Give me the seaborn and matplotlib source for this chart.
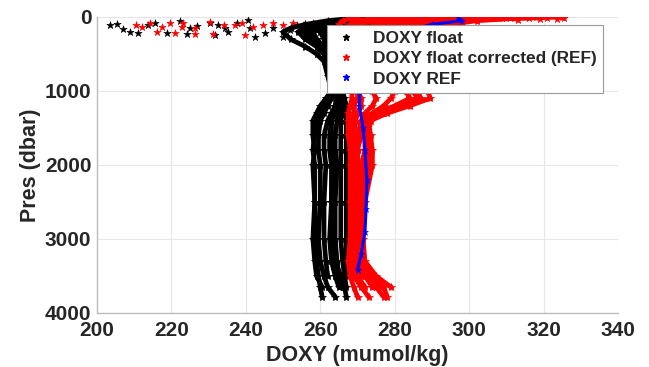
import numpy as np
import pandas as pd
import matplotlib
matplotlib.use("Agg")
import matplotlib.pyplot as plt
from matplotlib.lines import Line2D
import seaborn as sns

nan = np.nan

# ---------------- data ----------------
levels = [0, 20, 50, 100, 150, 200, 300, 400, 500, 600, 800, 1000, 1100, 1200, 1300,
          1400, 1600, 1800, 2000, 2500, 3000, 3300, 3500, 3650, 3780]

float_doxy = [
    [272, 268, 262, 256, 252, 250, 252, 256, 259, 261, 262, 263, 261.5, 260, 259, 258, 258, 258.5, 258, 258.5, 258, 258.5, 259, 260.5, nan],
    [280, 276, 270, 262, 256, 254, 256, 259, 261, 262, 263, 264, 263, 262, 261, 260, 259.5, 259.5, 260, 260, 259.5, 260, 261, 262, 264],
    [290, 285, 278, 268, 260, 257, 258, 260, 262, 263, 264, 265, 264.5, 264, 263, 262, 261, 261, 261.5, 261, 261, 261.5, 262, nan, nan],
    [300, 292, 284, 275, 264, 260, 261, 262, 263, 263.5, 265, 266, 265.5, 265, 264, 263, 262.5, 262.5, 263, 263, 262.5, 263, 264, 265, nan],
    [308, 300, 290, 282, 270, 263, 263, 263, 264, 264, 265, 266, 266, 266, 265, 264.5, 264, 264, 264.5, 264, 264, 264.5, 265, 266, nan],
    [296, 288, 280, 270, 262, 258, 259, 261, 262, 263, 264, 265, 265.5, 266, 266, 265.5, 265.5, 265.5, 265.5, 265.5, 265.5, 266, 266.5, 267, nan],
    [285, 280, 274, 265, 258, 255, 257, 260, 262, 263, 264.5, 266, 266.5, 267, 267, 267, 267, 267, 267, 267, 267, 267, 267.5, nan, nan],
    [275, 272, 268, 262, 258, 256, 257, 259, 261, 262, 263, 263, 262, 261, 260, 259, 258.5, 258, 258.5, 258.5, 259, 259, 259.5, 260, 260.5],
    [304, 296, 286, 276, 266, 261, 262, 262.5, 263, 263.5, 264, 265, 264.5, 264, 263.5, 263, 263, 263.5, 263.5, 263, 263.5, 264, 265.5, 266.5, 267],
]

corrected_doxy = [
    [270, 268, 266, 265, 265, 265, 266, 267, 267.5, 268, 268, 268.5, 268.5, 268, 267.5, 267.5, 267.5, 268, 268, 268, 268, 267.5, 268, 269, 270],
    [285, 280, 275, 270, 268, 267, 268, 268, 269, 269, 270, 270, 270, 269, 269, 268.5, 268.5, 269, 269, 269, 269, 269, 270, 272, nan],
    [300, 295, 288, 280, 275, 272, 272, 273, 274, 275, 277, 280, 279, 277, 274, 271.5, 271, 270, 270, 270, 270, 270, 272, 274, nan],
    [315, 305, 298, 290, 282, 278, 278, 280, 282, 284, 286, 289, 289.5, 284, 278, 273.5, 273, 272, 271, 271, 270.5, 271, 273, 276, nan],
    [325, 312, 302, 295, 286, 280, 279, 280, 281, 282, 284, 286, 287, 282, 276, 273, 273.5, 274, 274, 272, 271.5, 272, 275, 279, nan],
    [308, 300, 292, 285, 278, 274, 274, 275, 276, 277, 279, 283, 284, 280, 275, 272.5, 272.5, 273, 273, 271, 271, 271.5, 273.5, 277, 278],
    [292, 288, 282, 276, 272, 270, 270, 271, 272, 272.5, 273, 274, 275, 274, 272, 271, 270, 270, 270, 269.5, 269.5, 270, 271, nan, nan],
    [278, 274, 270, 268, 267, 266, 267, 268, 268, 268.5, 269, 270, 271, 271, 270, 269.5, 269, 269, 268.5, 268.5, 268.5, 268, 269, 271, 273],
    [318, 308, 296, 288, 280, 276, 276, 278, 280, 282, 283, 285, 286, 281, 277, 273, 272, 272, 272, 271, 271, 271, 272, 275, 277],
]

ref_pres = [0, 50, 100, 200, 400, 600, 800, 1000, 1200, 1500, 1800, 2200, 2600, 2900, 3200, 3420]
ref_doxy = [297, 298, 290, 282, 278, 275, 272, 270.5, 270.5, 271.5, 272, 272.5, 272.3, 272, 271, 270]

# scattered near-surface points
float_surf_doxy = [203.5, 205.3, 207.1, 208.9, 211.1, 213.8, 215.6, 218.7, 222.3, 224.1, 225, 226.8,
                   230.4, 231.7, 232.6, 234.4, 235.3, 237.5, 240.6, 241.1, 242.5, 245.2, 247.4,
                   250.1, 251.9, 253.7]
float_surf_pres = [108, 95, 166, 198, 212, 108, 86, 221, 54, 230, 153, 117,
                   86, 243, 108, 153, 198, 86, 41, 153, 275, 221, 153,
                   266, 176, 108]
corr_surf_doxy = [210.6, 212, 214.2, 216, 217.4, 219.6, 221, 222.8, 223.2, 226.3, 226.3, 230.4,
                  231.3, 234, 237.1, 238.9, 239.8, 242, 244.7, 247.4, 250.1, 252.7, 255.4, 258.1,
                  310, 313, 316, 319, 321, 323.5, 325.5]
corr_surf_pres = [108, 131, 86, 198, 131, 86, 221, 131, 77, 230, 153, 63,
                  230, 108, 108, 86, 243, 131, 108, 86, 108, 86, 108, 86,
                  20, 40, 10, 25, 15, 30, 10]

x_ticks = [200, 220, 240, 260, 280, 300, 320, 340]
y_ticks = [0, 1000, 2000, 3000, 4000]
legend_labels = ["DOXY float", "DOXY float corrected (REF)", "DOXY REF"]

# ---------------- build tables ----------------
def profiles_df(rows):
    recs = []
    for i, row in enumerate(rows):
        for p, v in zip(levels, row):
            if not np.isnan(v):
                recs.append({"profile": i, "pres": p, "doxy": v})
    return pd.DataFrame(recs)

df_float = profiles_df(float_doxy)
df_corr = profiles_df(corrected_doxy)
df_ref = pd.DataFrame({"profile": 0, "pres": ref_pres, "doxy": ref_doxy})

sns.set_theme(style="white")
plt.rcParams["font.family"] = ["Liberation Sans", "DejaVu Sans"]
plt.rcParams["font.weight"] = "bold"

fig = plt.figure(figsize=(6.49, 3.67), dpi=100)
ax = fig.add_axes([97 / 649, 1 - 313 / 367, 521 / 649, 296 / 367])

common = dict(x="doxy", y="pres", units="profile", estimator=None, sort=False,
              orient="y", ax=ax, legend=False)

sns.lineplot(data=df_float, color="black", lw=3.4, marker="*", markersize=6,
             markeredgewidth=0.5, markeredgecolor="black", **common)
sns.scatterplot(x=float_surf_doxy, y=float_surf_pres, color="black", marker="*",
                s=30, linewidth=0.4, edgecolor="black", ax=ax, legend=False)
sns.lineplot(data=df_corr, color="red", lw=3.4, marker="*", markersize=6,
             markeredgewidth=0.5, markeredgecolor="red", **common)
sns.scatterplot(x=corr_surf_doxy, y=corr_surf_pres, color="red", marker="*",
                s=30, linewidth=0.4, edgecolor="red", ax=ax, legend=False)
sns.lineplot(data=df_ref, color="blue", lw=2.2, marker="*", markersize=5,
             markeredgewidth=0.4, markeredgecolor="blue", **common)

ax.set_xlim(200, 340)
ax.set_ylim(4000, 0)
ax.set_xticks(x_ticks)
ax.set_yticks(y_ticks)
ax.set_xticklabels([str(t) for t in x_ticks])
ax.set_yticklabels([str(t) for t in y_ticks])
ax.grid(True, color="#e6e6e6", lw=0.8)
ax.set_axisbelow(True)
for s in ["top", "right"]:
    ax.spines[s].set_visible(False)
for s in ["left", "bottom"]:
    ax.spines[s].set_color("#bdbdbd")
    ax.spines[s].set_linewidth(1.0)
ax.tick_params(axis="both", direction="in", length=4, color="#bdbdbd",
               labelsize=15, labelcolor="#262626")
ax.tick_params(axis="x", pad=6)
ax.tick_params(axis="y", pad=4)
for lab in ax.get_xticklabels() + ax.get_yticklabels():
    lab.set_fontweight("bold")
ax.set_xlabel("DOXY (mumol/kg)", fontsize=15.5, fontweight="bold", color="#262626", labelpad=3)
ax.set_ylabel("Pres (dbar)", fontsize=15.5, fontweight="bold", color="#262626", labelpad=3)

handles = [Line2D([], [], ls="none", marker="*", color=c, markersize=5)
           for c in ["black", "red", "blue"]]
leg = ax.legend(handles, legend_labels,
                loc="upper right", bbox_to_anchor=(0.971, 0.973), borderaxespad=0,
                prop={"weight": "bold", "size": 12.4}, frameon=True, fancybox=False,
                handlelength=1.4, handletextpad=0.9, borderpad=0.35, labelspacing=0.3)
leg.get_frame().set_edgecolor("#9a9a9a")
leg.get_frame().set_linewidth(0.8)
leg.get_frame().set_alpha(1)

fig.savefig("out.png", dpi=100)
